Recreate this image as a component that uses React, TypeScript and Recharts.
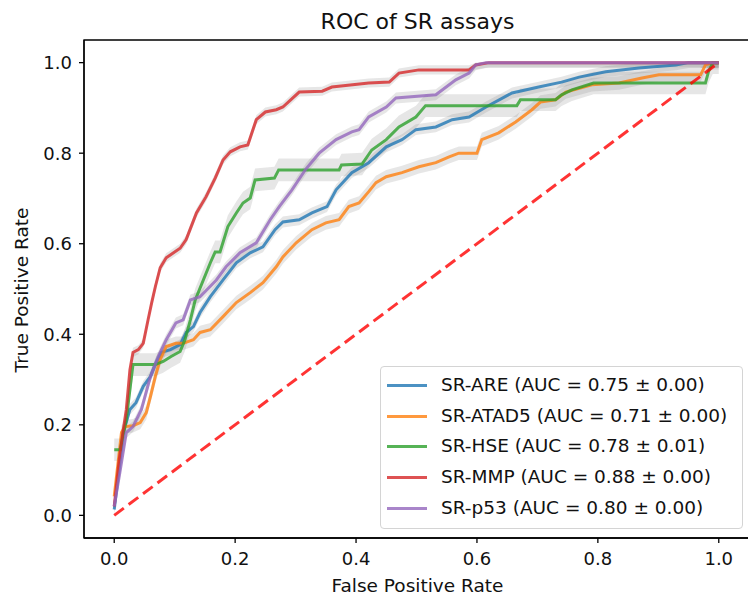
import React from 'react'
import {
  ComposedChart,
  Line,
  Area,
  XAxis,
  YAxis,
  ReferenceArea,
} from 'recharts'

// mean ROC points [fpr, tpr]
const ARE: [number, number][] = [
  [0, 0.013], [0.008, 0.1], [0.015, 0.183], [0.026, 0.234], [0.036, 0.249], [0.048, 0.285],
  [0.06, 0.307], [0.069, 0.337], [0.078, 0.36], [0.093, 0.366], [0.109, 0.377], [0.119, 0.404],
  [0.131, 0.417], [0.142, 0.448], [0.159, 0.483], [0.18, 0.52], [0.202, 0.558], [0.225, 0.58],
  [0.246, 0.593], [0.266, 0.631], [0.279, 0.648], [0.306, 0.653], [0.327, 0.668], [0.352, 0.682],
  [0.367, 0.719], [0.393, 0.757], [0.421, 0.779], [0.45, 0.814], [0.476, 0.83], [0.499, 0.852],
  [0.532, 0.858], [0.559, 0.874], [0.587, 0.88], [0.615, 0.902], [0.658, 0.933], [0.702, 0.946],
  [0.74, 0.957], [0.769, 0.968], [0.813, 0.98], [0.868, 0.988], [0.929, 0.995], [0.95, 1], [1, 1],
]

const ATAD5: [number, number][] = [
  [0, 0.042], [0.012, 0.183], [0.018, 0.196], [0.031, 0.198], [0.043, 0.205], [0.053, 0.227],
  [0.06, 0.263], [0.068, 0.307], [0.076, 0.344], [0.086, 0.373], [0.102, 0.38], [0.114, 0.38],
  [0.131, 0.388], [0.142, 0.404], [0.159, 0.41], [0.18, 0.439], [0.202, 0.47], [0.225, 0.492],
  [0.246, 0.514], [0.268, 0.549], [0.279, 0.571], [0.301, 0.602], [0.327, 0.631], [0.35, 0.646],
  [0.372, 0.653], [0.388, 0.682], [0.405, 0.69], [0.421, 0.715], [0.433, 0.735], [0.45, 0.748],
  [0.476, 0.757], [0.504, 0.77], [0.532, 0.779], [0.554, 0.792], [0.57, 0.8], [0.6, 0.8],
  [0.608, 0.83], [0.636, 0.845], [0.664, 0.869], [0.691, 0.896], [0.705, 0.913], [0.73, 0.918],
  [0.747, 0.935], [0.79, 0.951], [0.835, 0.955], [0.873, 0.966], [0.901, 0.973], [0.97, 0.973],
  [0.978, 0.995], [0.99, 1], [1, 1],
]

const HSE: [number, number][] = [
  [0, 0.145], [0.01, 0.145], [0.02, 0.212], [0.031, 0.333], [0.068, 0.333], [0.081, 0.34],
  [0.094, 0.351], [0.109, 0.362], [0.117, 0.388], [0.126, 0.432], [0.134, 0.476], [0.159, 0.558],
  [0.167, 0.582], [0.175, 0.582], [0.188, 0.638], [0.202, 0.668], [0.213, 0.69], [0.225, 0.701],
  [0.233, 0.741], [0.265, 0.745], [0.272, 0.763], [0.372, 0.763], [0.376, 0.774], [0.41, 0.776],
  [0.426, 0.807], [0.45, 0.83], [0.471, 0.858], [0.499, 0.88], [0.515, 0.905], [0.666, 0.905],
  [0.672, 0.918], [0.73, 0.918], [0.74, 0.929], [0.757, 0.94], [0.793, 0.955], [0.978, 0.955],
  [0.983, 0.98], [0.99, 1], [1, 1],
]

const MMP: [number, number][] = [
  [0, 0.02], [0.008, 0.12], [0.015, 0.19], [0.02, 0.234], [0.026, 0.322], [0.031, 0.36],
  [0.04, 0.366], [0.048, 0.38], [0.056, 0.432], [0.062, 0.47], [0.068, 0.505], [0.076, 0.547],
  [0.086, 0.569], [0.109, 0.59], [0.119, 0.609], [0.136, 0.668], [0.152, 0.704], [0.167, 0.745],
  [0.18, 0.785], [0.192, 0.803], [0.208, 0.814], [0.221, 0.818], [0.235, 0.874], [0.25, 0.891],
  [0.268, 0.896], [0.279, 0.902], [0.306, 0.935], [0.344, 0.937], [0.36, 0.946], [0.421, 0.955],
  [0.455, 0.957], [0.471, 0.977], [0.504, 0.984], [0.587, 0.984], [0.598, 0.995], [0.62, 1], [1, 1],
]

const P53: [number, number][] = [
  [0, 0.02], [0.01, 0.1], [0.02, 0.183], [0.031, 0.196], [0.045, 0.234], [0.06, 0.307],
  [0.073, 0.351], [0.086, 0.388], [0.102, 0.425], [0.114, 0.432], [0.126, 0.476], [0.142, 0.483],
  [0.169, 0.52], [0.185, 0.549], [0.208, 0.58], [0.235, 0.602], [0.258, 0.653], [0.273, 0.682],
  [0.294, 0.719], [0.317, 0.765], [0.339, 0.8], [0.367, 0.83], [0.393, 0.847], [0.405, 0.852],
  [0.421, 0.88], [0.45, 0.902], [0.466, 0.922], [0.532, 0.929], [0.565, 0.962], [0.587, 0.977],
  [0.598, 0.995], [0.615, 1], [1, 1],
]

const DIAGONAL: [number, number][] = [[0, 0], [1, 1]]

const NAMES = ['SR-ARE', 'SR-ATAD5', 'SR-HSE', 'SR-MMP', 'SR-p53']
const AUC = ['0.75', '0.71', '0.78', '0.88', '0.80']
const AUC_STD = ['0.00', '0.00', '0.01', '0.00', '0.00']
// std of tpr (grey band half-width)
const TPR_STD = [0.012, 0.015, 0.025, 0.01, 0.012]
const COLORS = ['#1f77b4', '#ff7f0e', '#2ca02c', '#d62728', '#9467bd']
const TICKS = [0, 0.2, 0.4, 0.6, 0.8, 1.0]

const CURVES = [ARE, ATAD5, HSE, MMP, P53]

const FONT = '"DejaVu Sans", sans-serif'

const toLine = (pts: [number, number][]) => pts.map(([x, y]) => ({ x, y }))
const toBand = (pts: [number, number][], s: number) =>
  pts.map(([x, y]) => ({ x, band: [Math.max(0, y - s), Math.min(1, y + s)] }))

function LegendBox() {
  return (
    <div
      style={{
        position: 'absolute',
        left: 380,
        top: 366,
        width: 363,
        height: 163,
        border: '1px solid #d4d4d4',
        borderRadius: 4,
        background: 'rgba(255,255,255,0.8)',
        boxSizing: 'border-box',
        fontSize: 18.5,
        color: '#111',
        paddingTop: 3,
      }}
    >
      {NAMES.map((n, i) => (
        <div key={n} style={{ display: 'flex', alignItems: 'center', height: 30.7 }}>
          <div
            style={{
              width: 40,
              height: 3,
              background: COLORS[i],
              opacity: 0.8,
              marginLeft: 6,
              marginRight: 14,
            }}
          />
          <span style={{ whiteSpace: 'nowrap', lineHeight: 1 }}>
            {n} (AUC = {AUC[i]} ± {AUC_STD[i]})
          </span>
        </div>
      ))}
    </div>
  )
}

export default function App() {
  return (
    <div
      style={{
        position: 'absolute',
        left: 0,
        top: 0,
        width: 748,
        height: 596,
        overflow: 'hidden',
        background: '#fff',
        fontFamily: FONT,
      }}
    >
      <ComposedChart
        width={752}
        height={596}
        margin={{ top: 40, right: 3, bottom: 8, left: 24 }}
        style={{ position: 'absolute', left: 0, top: 0 }}
      >
        <XAxis
          type="number"
          dataKey="x"
          domain={[-0.05, 1.05]}
          ticks={TICKS}
          tickFormatter={(v: number) => v.toFixed(1)}
          allowDataOverflow
          height={50}
          tickSize={5}
          tickMargin={9}
          axisLine={{ stroke: '#000', strokeWidth: 1.3 }}
          tickLine={{ stroke: '#000', strokeWidth: 1.3 }}
          tick={{ fontSize: 18, fill: '#111', fontFamily: FONT }}
        />
        <YAxis
          type="number"
          domain={[-0.05, 1.05]}
          ticks={TICKS}
          tickFormatter={(v: number) => v.toFixed(1)}
          allowDataOverflow
          width={60}
          tickSize={5}
          tickMargin={7}
          axisLine={{ stroke: '#000', strokeWidth: 1.3 }}
          tickLine={{ stroke: '#000', strokeWidth: 1.3 }}
          tick={{ fontSize: 18, fill: '#111', fontFamily: FONT }}
        />
        {CURVES.flatMap((pts, i) => [
          <Area
            key={`band-${i}`}
            data={toBand(pts, TPR_STD[i])}
            dataKey="band"
            type="linear"
            stroke="none"
            fill="#808080"
            fillOpacity={0.2}
            isAnimationActive={false}
          />,
          <Line
            key={`line-${i}`}
            data={toLine(pts)}
            dataKey="y"
            name={NAMES[i]}
            type="linear"
            stroke={COLORS[i]}
            strokeOpacity={0.8}
            strokeWidth={3}
            dot={false}
            isAnimationActive={false}
          />,
        ])}
        <Line
          data={toLine(DIAGONAL)}
          dataKey="y"
          type="linear"
          stroke="#ff0000"
          strokeOpacity={0.8}
          strokeWidth={3}
          strokeDasharray="12 6"
          dot={false}
          isAnimationActive={false}
        />
        <ReferenceArea
          x1={-0.05}
          x2={1.05}
          y1={-0.05}
          y2={1.05}
          fill="none"
          stroke="#000"
          strokeWidth={1.3}
          ifOverflow="visible"
        />
      </ComposedChart>
      <div
        style={{
          position: 'absolute',
          left: 84,
          width: 667,
          top: 11,
          textAlign: 'center',
          fontSize: 22,
          lineHeight: 1,
          color: '#111',
        }}
      >
        ROC of SR assays
      </div>
      <div
        style={{
          position: 'absolute',
          left: 84,
          width: 667,
          top: 577,
          textAlign: 'center',
          fontSize: 18.5,
          lineHeight: 1,
          color: '#111',
        }}
      >
        False Positive Rate
      </div>
      <div
        style={{
          position: 'absolute',
          left: 22,
          top: 290,
          transform: 'translate(-50%, -50%) rotate(-90deg)',
          whiteSpace: 'nowrap',
          fontSize: 18.5,
          lineHeight: 1,
          color: '#111',
        }}
      >
        True Positive Rate
      </div>
      <LegendBox />
    </div>
  )
}
